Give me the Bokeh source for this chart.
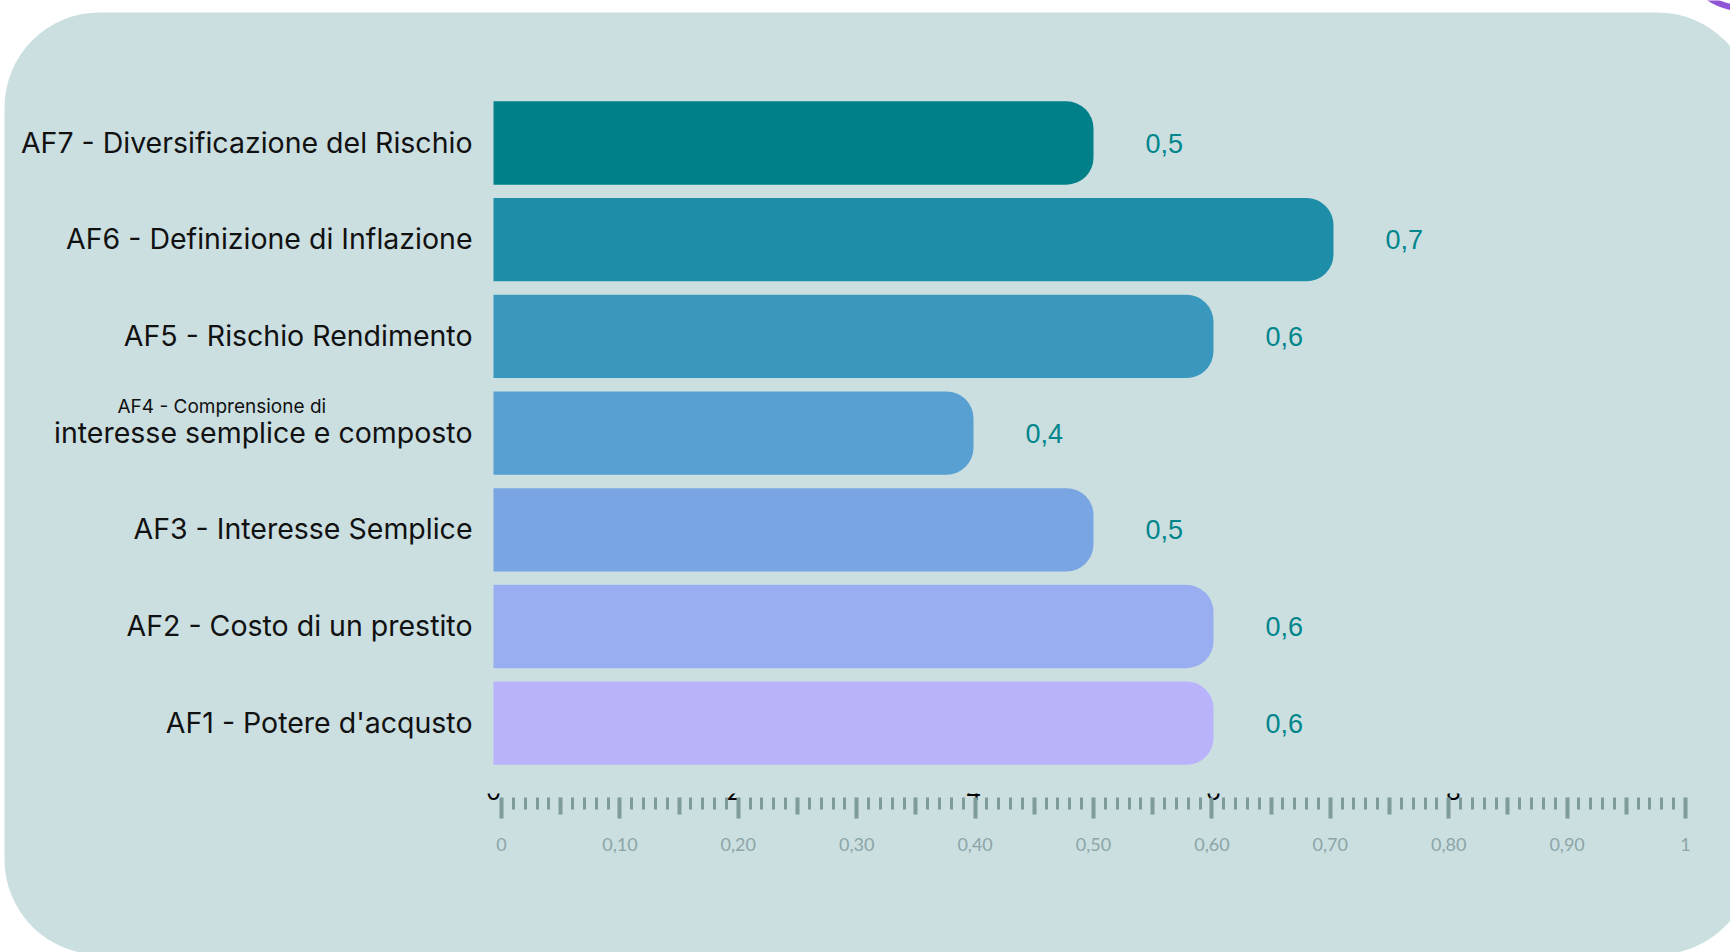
import numpy as np
from bokeh.plotting import figure
from bokeh.models import Range1d, LinearAxis, FixedTicker, ColumnDataSource
from bokeh.core.properties import value
from bokeh.embed import file_html
from bokeh.resources import INLINE

# ---------------- data ----------------
categories = [
    "AF1 - Potere d'acqusto",
    "AF2 - Costo di un prestito",
    "AF3 - Interesse Semplice",
    "AF4 - Comprensione di\ninteresse semplice e composto",
    "AF5 - Rischio Rendimento",
    "AF6 - Definizione di Inflazione",
    "AF7 - Diversificazione del Rischio",
]
scores = [0.6, 0.6, 0.5, 0.4, 0.6, 0.7, 0.5]
bar_colors = ["#B9B3FC", "#99AEF0", "#79A6E3", "#589FD2", "#3A97BE", "#1E8DA8", "#02808A"]

ruler_ticks = [0.0, 0.1, 0.2, 0.3, 0.4, 0.5, 0.6, 0.7, 0.8, 0.9, 1.0]
ruler_tick_labels = ["0", "0,10", "0,20", "0,30", "0,40", "0,50", "0,60", "0,70", "0,80", "0,90", "1"]
ruler_mid_ticks = [0.05, 0.15, 0.25, 0.35, 0.45, 0.55, 0.65, 0.75, 0.85, 0.95]
ruler_minor_ticks = [round(i / 100, 2) for i in range(1, 100) if i % 5 != 0]

hidden_ticks = [0.0, 0.2, 0.4, 0.6, 0.8]
hidden_tick_labels = ["0", "2", "4", "6", "8"]

# ---------------- layout helpers (pixels) ----------------
W, H = 1730, 952
BAR_X0, BAR_PPU = 493.0, 1200.0      # bar scale: value 0 at px 493
RUL_X0, RUL_PPU = 501.0, 1184.0      # ruler scale: value 0 at px 501
ROW_PX, ROW0_PX = 96.7, 722.7        # row pitch, center of first row from top

y_end = ROW0_PX / ROW_PX
y_start = y_end - H / ROW_PX


def ypx(px):
    return y_end - px / ROW_PX


def xpx(px):
    return (px - BAR_X0) / BAR_PPU


BG = "#CBDFE1"

p = figure(
    width=W, height=H,
    x_range=Range1d(-BAR_X0 / BAR_PPU, (W - BAR_X0) / BAR_PPU),
    y_range=Range1d(y_start, y_end),
    output_backend="svg", toolbar_location=None,
    x_axis_location=None, y_axis_location=None,
    min_border=0, outline_line_color=None,
    background_fill_color="white", border_fill_color="white",
)
p.xgrid.visible = False
p.ygrid.visible = False
p.extra_x_ranges = {"ruler": Range1d(-RUL_X0 / RUL_PPU, (W - RUL_X0) / RUL_PPU)}

# rounded background panel
p.quad(left=[xpx(4)], right=[xpx(1752)], top=[ypx(12)], bottom=[ypx(954)],
       fill_color=BG, line_color=None, border_radius=95)

# small purple decoration peeking in at the top-right corner
p.scatter(x=[xpx(1745)], y=[ypx(-60)], size=136, marker="circle",
          fill_color=None, line_color="#8F55D6", line_width=6)

# ---------------- bars ----------------
main_lbl = [c.split("\n")[-1] for c in categories]
prefix_lbl = [c.split("\n")[0] if "\n" in c else "" for c in categories]
val_lbl = [f"{v:.1f}".replace(".", ",") for v in scores]

src = ColumnDataSource(dict(
    y=list(range(len(categories))), score=scores, color=bar_colors,
    main=main_lbl, prefix=prefix_lbl, vlabel=val_lbl,
))

p.hbar(y="y", left=0, right="score", height=83.3 / ROW_PX, fill_color="color",
       line_color=None, border_radius=(0, 27, 27, 0), source=src)

p.text(x=0, y="y", text="main", source=src, x_offset=-21, y_offset=-1,
       text_align="right", text_baseline="middle",
       text_font=value("Inter"), text_font_size="28.5px", text_color="#111111")
p.text(x=0, y="y", text="prefix", source=src, x_offset=-376, y_offset=-27,
       text_align="left", text_baseline="middle",
       text_font=value("Inter"), text_font_size="19px", text_color="#111111")

p.text(x="score", y="y", text="vlabel", source=src, x_offset=52,
       text_align="left", text_baseline="middle",
       text_font=value("Liberation Sans"), text_font_size="27px", text_color="#00868B")

# ---------------- hidden (clipped) black axis labels ----------------
ax_hidden = LinearAxis(
    fixed_location=ypx(781),
    ticker=FixedTicker(ticks=hidden_ticks, minor_ticks=[]),
    major_label_overrides=dict(zip(hidden_ticks, hidden_tick_labels)),
    axis_line_color=None, major_tick_line_color=None, minor_tick_line_color=None,
    major_tick_out=0, major_tick_in=0, minor_tick_out=0, minor_tick_in=0,
    major_label_standoff=0,
    major_label_text_font="Inter", major_label_text_font_size="24px",
    major_label_text_color="#000000",
)
p.add_layout(ax_hidden, "below")
p.quad(left=[xpx(420)], right=[xpx(1600)], top=[ypx(768)], bottom=[ypx(793)],
       fill_color=BG, line_color=None, level="overlay")

# ---------------- ruler axis ----------------
TICK_C = "#7D9B9B"
ax_ruler = LinearAxis(
    x_range_name="ruler", fixed_location=ypx(797),
    ticker=FixedTicker(ticks=ruler_ticks, minor_ticks=ruler_minor_ticks),
    major_label_overrides=dict(zip(ruler_ticks, ruler_tick_labels)),
    axis_line_color=None,
    major_tick_line_color=TICK_C, major_tick_line_width=4, major_tick_out=21, major_tick_in=0,
    minor_tick_line_color=TICK_C, minor_tick_line_width=3, minor_tick_out=12, minor_tick_in=0,
    major_label_standoff=19,
    major_label_text_font="Lato", major_label_text_font_size="18px",
    major_label_text_color="#8CA5A7",
)
p.add_layout(ax_ruler, "below")

ax_mid = LinearAxis(
    x_range_name="ruler", fixed_location=ypx(797),
    ticker=FixedTicker(ticks=ruler_mid_ticks, minor_ticks=[]),
    axis_line_color=None,
    major_tick_line_color=TICK_C, major_tick_line_width=4, major_tick_out=17, major_tick_in=0,
    minor_tick_line_color=None, minor_tick_out=0, minor_tick_in=0,
    major_label_text_font_size="0px", major_label_text_color=None,
)
p.add_layout(ax_mid, "below")

open("out.html", "w").write(file_html(p, INLINE))
